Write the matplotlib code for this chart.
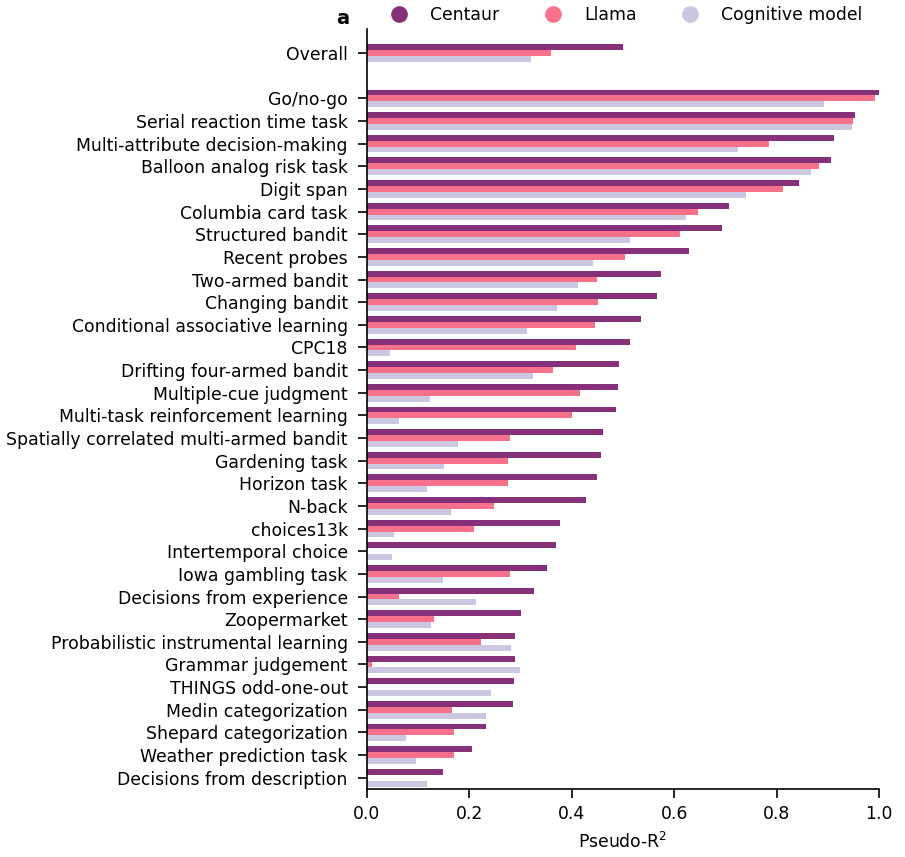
import matplotlib
matplotlib.use("Agg")
import matplotlib.pyplot as plt
import numpy as np
from matplotlib.lines import Line2D

categories = [
    "Overall",
    "Go/no-go", "Serial reaction time task", "Multi-attribute decision-making",
    "Balloon analog risk task", "Digit span", "Columbia card task",
    "Structured bandit", "Recent probes", "Two-armed bandit", "Changing bandit",
    "Conditional associative learning", "CPC18", "Drifting four-armed bandit",
    "Multiple-cue judgment", "Multi-task reinforcement learning",
    "Spatially correlated multi-armed bandit", "Gardening task", "Horizon task",
    "N-back", "choices13k", "Intertemporal choice", "Iowa gambling task",
    "Decisions from experience", "Zoopermarket",
    "Probabilistic instrumental learning", "Grammar judgement",
    "THINGS odd-one-out", "Medin categorization", "Shepard categorization",
    "Weather prediction task", "Decisions from description",
]

centaur = [0.500,
    1.000, 0.953, 0.912, 0.906, 0.844, 0.707, 0.693, 0.629, 0.574, 0.566,
    0.535, 0.513, 0.492, 0.490, 0.486, 0.462, 0.457, 0.449, 0.429, 0.378,
    0.369, 0.351, 0.326, 0.302, 0.289, 0.289, 0.287, 0.285, 0.232, 0.206, 0.148]

llama = [0.360,
    0.992, 0.950, 0.785, 0.883, 0.812, 0.646, 0.611, 0.505, 0.449, 0.451,
    0.445, 0.408, 0.363, 0.417, 0.400, 0.280, 0.275, 0.275, 0.249, 0.209,
    0.0, 0.279, 0.063, 0.132, 0.224, 0.010, 0.0, 0.167, 0.171, 0.171, 0.0]

cognitive = [0.321,
    0.892, 0.947, 0.725, 0.868, 0.740, 0.623, 0.513, 0.442, 0.412, 0.371,
    0.312, 0.046, 0.324, 0.124, 0.063, 0.178, 0.151, 0.118, 0.165, 0.054,
    0.050, 0.149, 0.214, 0.126, 0.281, 0.300, 0.242, 0.232, 0.077, 0.097, 0.118]

series_names = ["Centaur", "Llama", "Cognitive model"]
colors = ["#86307a", "#f7718a", "#cbc7e0"]

plt.rcParams['font.family'] = ['DejaVu Sans']
FS = 12.4

W, H = 905, 857
fig = plt.figure(figsize=(W / 100, H / 100), dpi=100)
ax_left, ax_right, ax_top, ax_bottom = 366.7, 879, 29.3, 789
ax = fig.add_axes([ax_left / W, 1 - ax_bottom / H,
                   (ax_right - ax_left) / W, (ax_bottom - ax_top) / H])

pos = np.array([0] + list(range(2, 2 + len(categories) - 1)), dtype=float)
h = 0.26
for i, (vals, col) in enumerate(zip([centaur, llama, cognitive], colors)):
    ax.barh(pos + (i - 1) * h, vals, height=h, color=col, label=series_names[i])

ax.set_yticks(pos)
ax.set_yticklabels(categories, fontsize=FS)
ax.set_ylim(pos[-1] + 0.5, -1.05)
ax.set_xlim(0, 1.0)
ax.set_xticks([0, 0.2, 0.4, 0.6, 0.8, 1.0])
ax.set_xticklabels(["0.0", "0.2", "0.4", "0.6", "0.8", "1.0"], fontsize=FS)
ax.set_xlabel("Pseudo-R$^2$", fontsize=FS, labelpad=7)
ax.spines['top'].set_visible(False)
ax.spines['right'].set_visible(False)
ax.tick_params(axis='y', width=1.2, length=6.7, pad=7)
ax.tick_params(axis='x', width=1.2, length=6.2, pad=5)
for s in ['left', 'bottom']:
    ax.spines[s].set_linewidth(1.2)

handles = [Line2D([], [], marker='o', linestyle='none', markersize=11,
                  markerfacecolor=c, markeredgecolor=c) for c in colors]
fig.legend(handles, series_names, loc='center',
           bbox_to_anchor=(622 / W, 1 - 15.5 / H), bbox_transform=fig.transFigure,
           ncol=3, frameon=False, fontsize=FS, columnspacing=2.1,
           handletextpad=0.8, borderpad=0.2)

fig.text(343 / W, 1 - 18 / H, "a", fontsize=14, fontweight='bold',
         ha='center', va='center')

fig.savefig("out.png", dpi=100)
